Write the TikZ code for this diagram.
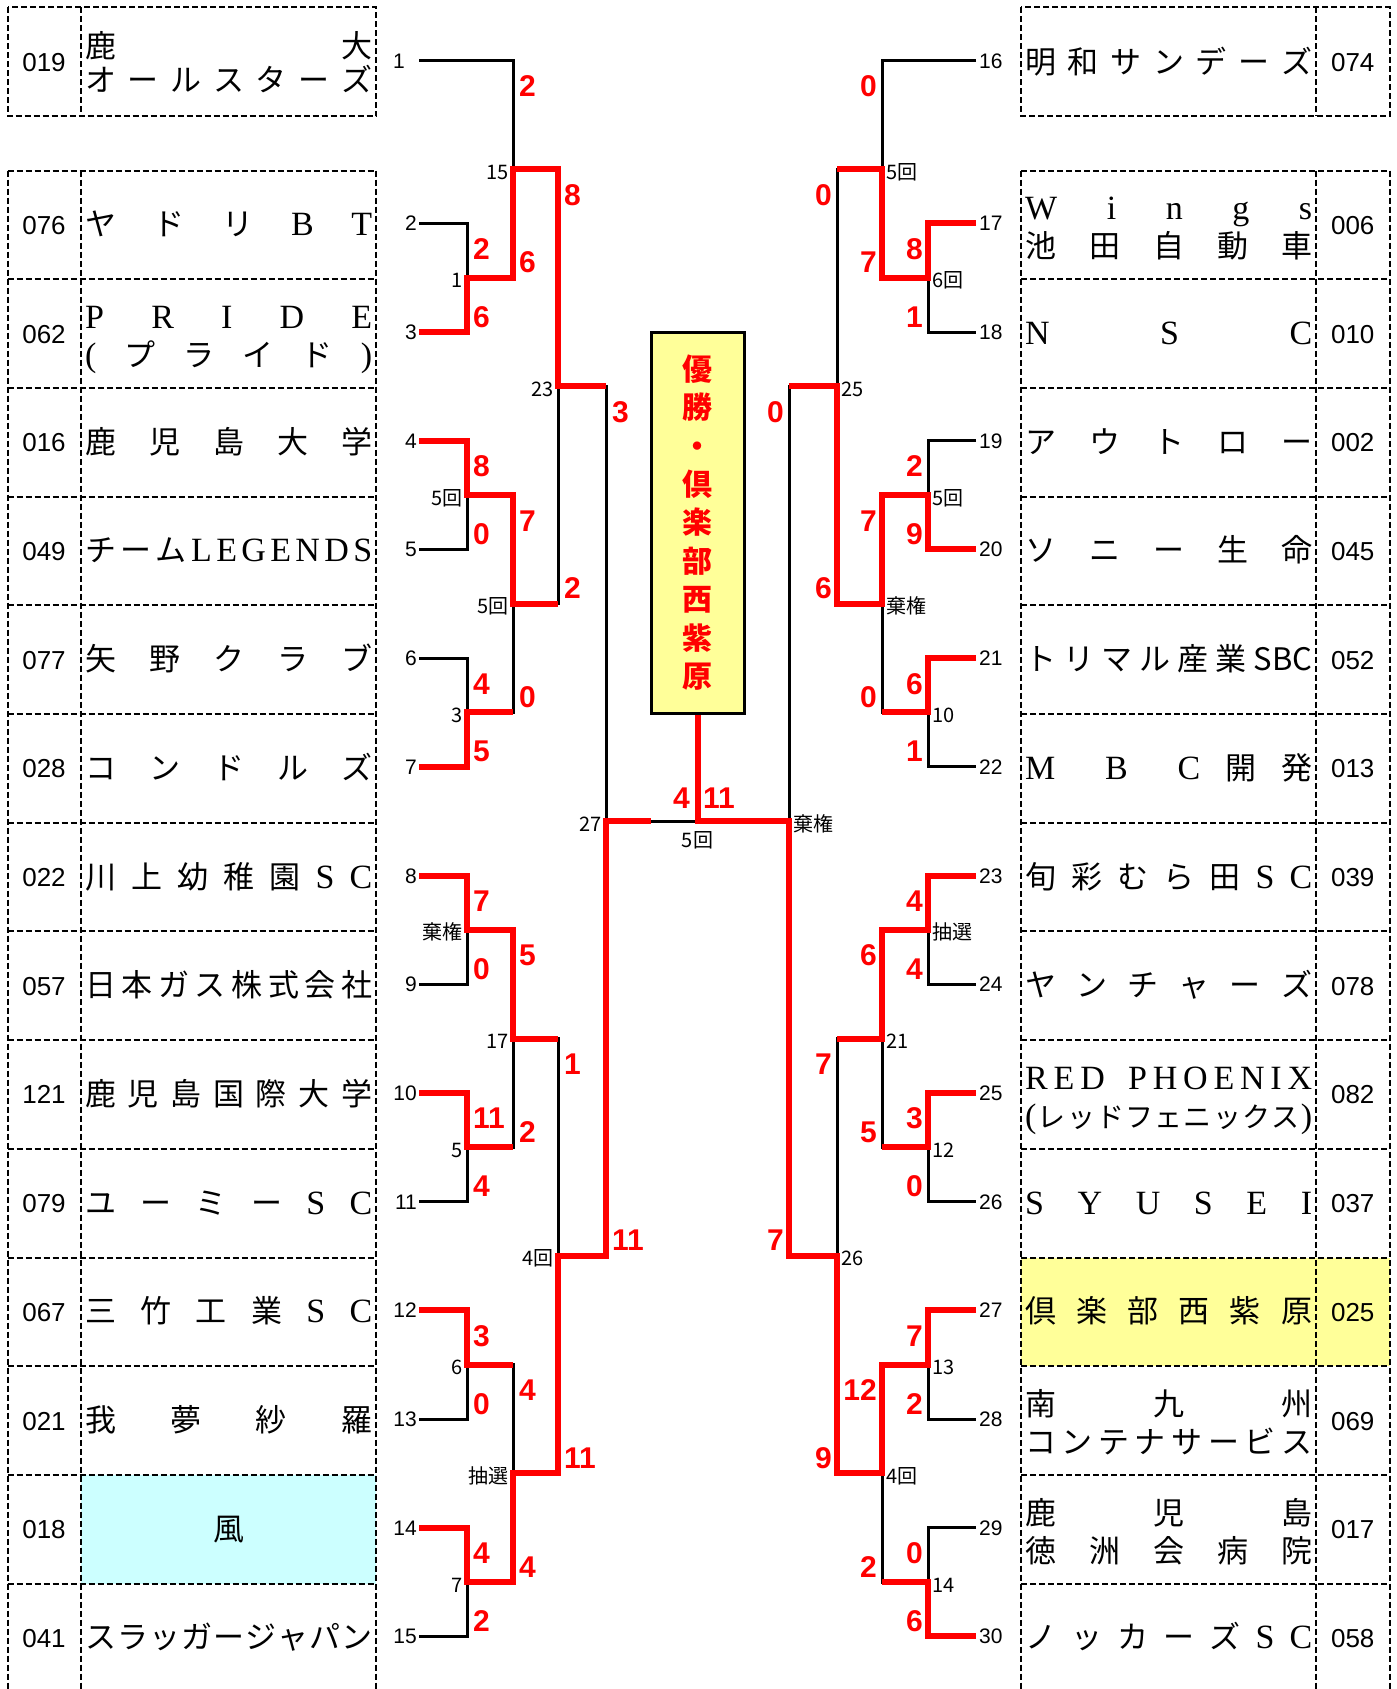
\documentclass[tikz,border=0pt]{standalone}
\usepackage{fontspec}
\setmainfont{Liberation Sans}
\newfontfamily\jp{Noto Sans CJK JP}
\newfontfamily\lat{Liberation Serif}
\definecolor{champy}{HTML}{FFFF99}
\definecolor{lcyan}{HTML}{CCFFFF}
\newcommand{\nm}[1]{\makebox[287pt][s]{#1}}
\newcommand{\latn}[1]{{\lat\fontsize{34}{34}\selectfont #1}}
\tikzset{
 blk/.style={line width=3pt, black},
 win/.style={line width=6pt, red, line join=miter},
 dsh/.style={line width=2pt, dash pattern=on 6pt off 3pt},
 score/.style={font=\fontsize{30}{30}\bfseries\selectfont, text=red, inner sep=0pt},
 lnum/.style={font=\fontsize{21}{21}\selectfont, inner sep=0pt},
 mlab/.style={font=\jp\fontsize{20}{20}\selectfont, inner sep=0pt},
 codetxt/.style={font=\fontsize{26}{26}\selectfont, inner sep=0pt, anchor=base},
 tname/.style={font=\jp\fontsize{31}{31}\selectfont, inner sep=0pt, anchor=base west},
 champbox/.style={draw, line width=3pt, fill=champy, minimum width=93pt, minimum height=381pt,
   inner sep=0pt, align=center, text=red, font=\jp\bfseries\fontsize{30}{38.4}\selectfont}
}
\begin{document}
\begin{tikzpicture}[x=1pt,y=-1pt]
\useasboundingbox (0,0) rectangle (1397,1689);

% ---------- tables ----------
\fill[lcyan] (81,1474.9) rectangle (376,1583.6);
\fill[champy] (1021,1257.5) rectangle (1389.5,1366.2);
\draw[dsh] (7.5,7) rectangle (376,116);
\draw[dsh] (81,7) -- (81,116);
\draw[dsh] (1021,7) rectangle (1389.5,116);
\draw[dsh] (1316,7) -- (1316,116);
\foreach \k in {0,...,13} {
  \draw[dsh] (7.5,170.5+108.7*\k) -- (376,170.5+108.7*\k);
  \draw[dsh] (1021,170.5+108.7*\k) -- (1389.5,170.5+108.7*\k);
}
\foreach \x in {7.5,81,376,1021,1316,1389.5} \draw[dsh] (\x,170.5) -- (\x,1689);

% ---------- champion box ----------
\node[champbox] (champ) at (697.5,522.5) {優\\勝\\・\\倶\\楽\\部\\西\\紫\\原};

% ---------- coordinates ----------
\coordinate (L1) at (419,60.5);
\foreach \n/\y in {2/223.3,3/332.0,4/440.7,5/549.4,6/658.1,7/766.8,8/875.5,9/984.2,10/1092.9,11/1201.6,12/1310.3,13/1419.0,14/1527.7,15/1636.4}
  \coordinate (L\n) at (419,\y);
\coordinate (R16) at (976,60.5);
\foreach \n/\y in {17/223.3,18/332.0,19/440.7,20/549.4,21/658.1,22/766.8,23/875.5,24/984.2,25/1092.9,26/1201.6,27/1310.3,28/1419.0,29/1527.7,30/1636.4}
  \coordinate (R\n) at (976,\y);
\foreach \i/\y in {1/277.65,2/495.05,3/712.45,4/929.85,5/1147.25,6/1364.65,7/1582.05} {
  \coordinate (a\i) at (467,\y);
  \coordinate (p\i) at (928,\y);
}
\foreach \i/\y in {1/169.1,2/603.75,3/1038.55,4/1473.35} {
  \coordinate (b\i) at (513,\y);
  \coordinate (q\i) at (882,\y);
}
\foreach \i/\y in {1/386.4,2/1255.95} {
  \coordinate (c\i) at (558,\y);
  \coordinate (r\i) at (837,\y);
}
\coordinate (d1) at (606,821.2);
\coordinate (s1) at (789,821.2);
\coordinate (F) at (697.5,821.2);
\coordinate (Fh) at (651,821.2);

% ---------- black bracket ----------
\draw[blk] (L2) -| (a1) |- (L3);
\draw[blk] (L4) -| (a2) |- (L5);
\draw[blk] (L6) -| (a3) |- (L7);
\draw[blk] (L8) -| (a4) |- (L9);
\draw[blk] (L10) -| (a5) |- (L11);
\draw[blk] (L12) -| (a6) |- (L13);
\draw[blk] (L14) -| (a7) |- (L15);
\draw[blk] (L1) -| (b1) |- (a1);
\draw[blk] (a2) -| (b2) |- (a3);
\draw[blk] (a4) -| (b3) |- (a5);
\draw[blk] (a6) -| (b4) |- (a7);
\draw[blk] (b1) -| (c1) |- (b2);
\draw[blk] (b3) -| (c2) |- (b4);
\draw[blk] (c1) -| (d1) |- (c2);
\draw[blk] (R17) -| (p1) |- (R18);
\draw[blk] (R19) -| (p2) |- (R20);
\draw[blk] (R21) -| (p3) |- (R22);
\draw[blk] (R23) -| (p4) |- (R24);
\draw[blk] (R25) -| (p5) |- (R26);
\draw[blk] (R27) -| (p6) |- (R28);
\draw[blk] (R29) -| (p7) |- (R30);
\draw[blk] (R16) -| (q1) |- (p1);
\draw[blk] (p2) -| (q2) |- (p3);
\draw[blk] (p4) -| (q3) |- (p5);
\draw[blk] (p6) -| (q4) |- (p7);
\draw[blk] (q1) -| (r1) |- (q2);
\draw[blk] (q3) -| (r2) |- (q4);
\draw[blk] (r1) -| (s1) |- (r2);
\draw[blk] (d1) -- (s1);
\draw[blk] (F) -- (champ.south);

% ---------- winners (red) ----------
\draw[win] (L3) -| (a1) -| (b1) -| (c1) -- (c1 -| d1);
\draw[win] (L4) -| (a2) -| (b2) -- (b2 -| c1);
\draw[win] (L7) -| (a3) -- (a3 -| b2);
\draw[win] (L8) -| (a4) -| (b3) -- (b3 -| c2);
\draw[win] (L10) -| (a5) -- (a5 -| b3);
\draw[win] (L12) -| (a6) -- (a6 -| b4);
\draw[win] (L14) -| (a7) -| (b4) -| (c2) -| (d1) -- (Fh);
\draw[win] (R17) -| (p1) -| (q1) -- (q1 -| r1);
\draw[win] (R20) -| (p2) -| (q2) -| (r1) -- (r1 -| s1);
\draw[win] (R21) -| (p3) -- (p3 -| q2);
\draw[win] (R23) -| (p4) -| (q3) -- (q3 -| r2);
\draw[win] (R25) -| (p5) -- (p5 -| q3);
\draw[win] (R27) -| (p6) -| (q4) -| (r2) -| (s1) -- (F) -- (champ.south);
\draw[win] (R30) -| (p7) -- (p7 -| q4);

% ---------- scores ----------
\foreach \x/\t/\b/\s/\u [count=\i] in {467/223.3/332.0/2/6, 513/60.5/277.65/2/6, 467/440.7/549.4/8/0,
  467/658.1/766.8/4/5, 513/495.05/712.45/7/0, 558/169.1/603.75/8/2, 606/386.4/1255.95/3/11,
  467/875.5/984.2/7/0, 467/1092.9/1201.6/11/4, 513/929.85/1147.25/5/2, 467/1310.3/1419.0/3/0,
  467/1527.7/1636.4/4/2, 513/1364.65/1582.05/4/4, 558/1038.55/1473.35/1/11} {
  \node[score, anchor=base west] (slt\i) at (\x+6,\t+36) {\s};
  \node[score, anchor=base west] (slb\i) at (\x+6,\b-5) {\u};
}
\foreach \x/\t/\b/\s/\u [count=\i] in {928/223.3/332.0/8/1, 882/60.5/277.65/0/7, 928/440.7/549.4/2/9,
  928/658.1/766.8/6/1, 882/495.05/712.45/7/0, 837/169.1/603.75/0/6, 789/386.4/1255.95/0/7,
  928/875.5/984.2/4/4, 928/1092.9/1201.6/3/0, 882/929.85/1147.25/6/5, 928/1310.3/1419.0/7/2,
  928/1527.7/1636.4/0/6, 882/1364.65/1582.05/12/2, 837/1038.55/1473.35/7/9} {
  \node[score, anchor=base east] (srt\i) at (\x-5,\t+36) {\s};
  \node[score, anchor=base east] (srb\i) at (\x-5,\b-5) {\u};
}
\node[score, anchor=base east] (fin1) at (690,808) {4};
\node[score, anchor=base west] (fin2) at (703,808) {11};

% ---------- match labels ----------
\foreach \x/\y/\t [count=\i] in {467/277.65/1, 513/169.1/15, 467/495.05/5回, 467/712.45/3, 513/603.75/5回,
  558/386.4/23, 606/821.2/27, 467/929.85/棄権, 467/1147.25/5, 513/1038.55/17, 467/1364.65/6,
  467/1582.05/7, 513/1473.35/抽選, 558/1255.95/4回}
  \node[mlab, anchor=base east] (mll\i) at (\x-4,\y+10) {\t};
\foreach \x/\y/\t [count=\i] in {928/277.65/6回, 882/169.1/5回, 928/495.05/5回, 928/712.45/10, 882/603.75/棄権,
  837/386.4/25, 789/821.2/棄権, 928/929.85/抽選, 928/1147.25/12, 882/1038.55/21, 928/1364.65/13,
  928/1582.05/14, 882/1473.35/4回, 837/1255.95/26}
  \node[mlab, anchor=base west] (mlr\i) at (\x+4,\y+10) {\t};
\node[mlab, anchor=base] (mfin) at (697.5,847) {5回};

% ---------- leaf numbers ----------
\node[lnum, anchor=base east] (nl1) at (405,68) {1};
\foreach \n/\y in {2/223.3,3/332.0,4/440.7,5/549.4,6/658.1,7/766.8,8/875.5,9/984.2,10/1092.9,11/1201.6,12/1310.3,13/1419.0,14/1527.7,15/1636.4}
  \node[lnum, anchor=base east] (nl\n) at (417,\y+7.5) {\n};
\node[lnum, anchor=base west] (nr16) at (979,68) {16};
\foreach \n/\y in {17/223.3,18/332.0,19/440.7,20/549.4,21/658.1,22/766.8,23/875.5,24/984.2,25/1092.9,26/1201.6,27/1310.3,28/1419.0,29/1527.7,30/1636.4}
  \node[lnum, anchor=base west] (nr\n) at (979,\y+7.5) {\n};

% ---------- codes ----------
\node[codetxt] (cl0) at (44,71) {019};
\node[codetxt] (cr0) at (1352.75,71) {074};
\foreach \cd/\ce [count=\i from 0] in {076/006,062/010,016/002,049/045,077/052,028/013,022/039,057/078,121/082,079/037,067/025,021/069,018/017,041/058} {
  \node[codetxt] (cl\i x) at (44,224.85+108.7*\i+9.5) {\cd};
  \node[codetxt] (cr\i x) at (1352.75,224.85+108.7*\i+9.5) {\ce};
}

% ---------- left team names ----------
\node[tname] (tl1a) at (85,57) {\nm{鹿\hfill 大}};
\node[tname] (tl1b) at (85,91) {\nm{オ\hfill ー\hfill ル\hfill ス\hfill タ\hfill ー\hfill ズ}};
\node[tname] (tl2) at (85,235.85) {\nm{ヤ\hfill ド\hfill リ\hfill \latn{B}\hfill \latn{T}}};
\node[tname] (tl3a) at (85,328.55) {\nm{\latn{P}\hfill\latn{R}\hfill\latn{I}\hfill\latn{D}\hfill\latn{E}}};
\node[tname] (tl3b) at (85,366.55) {\nm{\latn{(}\hfill プ\hfill ラ\hfill イ\hfill ド\hfill \latn{)}}};
\node[tname] (tl4) at (85,453.25) {\nm{鹿\hfill 児\hfill 島\hfill 大\hfill 学}};
\node[tname] (tl5) at (85,561.95) {\nm{チ\hfill ー\hfill ム\hfill\latn{L}\hfill\latn{E}\hfill\latn{G}\hfill\latn{E}\hfill\latn{N}\hfill\latn{D}\hfill\latn{S}}};
\node[tname] (tl6) at (85,670.65) {\nm{矢\hfill 野\hfill ク\hfill ラ\hfill ブ}};
\node[tname] (tl7) at (85,779.35) {\nm{コ\hfill ン\hfill ド\hfill ル\hfill ズ}};
\node[tname] (tl8) at (85,888.05) {\nm{川\hfill 上\hfill 幼\hfill 稚\hfill 園\hfill \latn{S}\hfill \latn{C}}};
\node[tname] (tl9) at (85,996.75) {\nm{日\hfill 本\hfill ガ\hfill ス\hfill 株\hfill 式\hfill 会\hfill 社}};
\node[tname] (tl10) at (85,1105.45) {\nm{鹿\hfill 児\hfill 島\hfill 国\hfill 際\hfill 大\hfill 学}};
\node[tname] (tl11) at (85,1214.15) {\nm{ユ\hfill ー\hfill ミ\hfill ー\hfill \latn{S}\hfill \latn{C}}};
\node[tname] (tl12) at (85,1322.85) {\nm{三\hfill 竹\hfill 工\hfill 業\hfill \latn{S}\hfill \latn{C}}};
\node[tname] (tl13) at (85,1431.55) {\nm{我\hfill 夢\hfill 紗\hfill 羅}};
\node[tname] (tl14) at (85,1540.25) {\nm{\hfill 風\hfill}};
\node[tname] (tl15) at (85,1648.95) {\nm{ス\hfill ラ\hfill ッ\hfill ガ\hfill ー\hfill ジ\hfill ャ\hfill パ\hfill ン}};

% ---------- right team names ----------
\node[tname] (tr16) at (1025,73) {\nm{明\hfill 和\hfill サ\hfill ン\hfill デ\hfill ー\hfill ズ}};
\node[tname] (tr17a) at (1025,219.85) {\nm{\latn{W}\hfill\latn{i}\hfill\latn{n}\hfill\latn{g}\hfill\latn{s}}};
\node[tname] (tr17b) at (1025,257.85) {\nm{池\hfill 田\hfill 自\hfill 動\hfill 車}};
\node[tname] (tr18) at (1025,344.55) {\nm{\latn{N}\hfill\latn{S}\hfill\latn{C}}};
\node[tname] (tr19) at (1025,453.25) {\nm{ア\hfill ウ\hfill ト\hfill ロ\hfill ー}};
\node[tname] (tr20) at (1025,561.95) {\nm{ソ\hfill ニ\hfill ー\hfill 生\hfill 命}};
\node[tname] (tr21) at (1025,670.65) {\nm{ト\hfill リ\hfill マ\hfill ル\hfill 産\hfill 業\hfill SBC}};
\node[tname] (tr22) at (1025,779.35) {\nm{\latn{M}\hfill\hfill\latn{B}\hfill\hfill\latn{C}\hfill 開\hfill 発}};
\node[tname] (tr23) at (1025,888.05) {\nm{旬\hfill 彩\hfill む\hfill ら\hfill 田\hfill \latn{S}\hfill \latn{C}}};
\node[tname] (tr24) at (1025,996.75) {\nm{ヤ\hfill ン\hfill チ\hfill ャ\hfill ー\hfill ズ}};
\node[tname] (tr25a) at (1025,1089.45) {\nm{\latn{R}\hfill\latn{E}\hfill\latn{D}\hfill\hfill\hfill\hfill\latn{P}\hfill\latn{H}\hfill\latn{O}\hfill\latn{E}\hfill\latn{N}\hfill\latn{I}\hfill\latn{X}}};
\node[tname, font=\jp\fontsize{28}{28}\selectfont] (tr25b) at (1025,1127.45) {\nm{\latn{(}\hfill レ\hfill ッ\hfill ド\hfill フ\hfill ェ\hfill ニ\hfill ッ\hfill ク\hfill ス\hfill\latn{)}}};
\node[tname] (tr26) at (1025,1214.15) {\nm{\latn{S}\hfill\latn{Y}\hfill\latn{U}\hfill\latn{S}\hfill\latn{E}\hfill\latn{I}}};
\node[tname] (tr27) at (1025,1322.85) {\nm{倶\hfill 楽\hfill 部\hfill 西\hfill 紫\hfill 原}};
\node[tname] (tr28a) at (1025,1415.55) {\nm{南\hfill 九\hfill 州}};
\node[tname] (tr28b) at (1025,1453.55) {\nm{コ\hfill ン\hfill テ\hfill ナ\hfill サ\hfill ー\hfill ビ\hfill ス}};
\node[tname] (tr29a) at (1025,1524.25) {\nm{鹿\hfill 児\hfill 島}};
\node[tname] (tr29b) at (1025,1562.25) {\nm{徳\hfill 洲\hfill 会\hfill 病\hfill 院}};
\node[tname] (tr30) at (1025,1648.95) {\nm{ノ\hfill ッ\hfill カ\hfill ー\hfill ズ\hfill \latn{S}\hfill \latn{C}}};
\end{tikzpicture}
\end{document}
